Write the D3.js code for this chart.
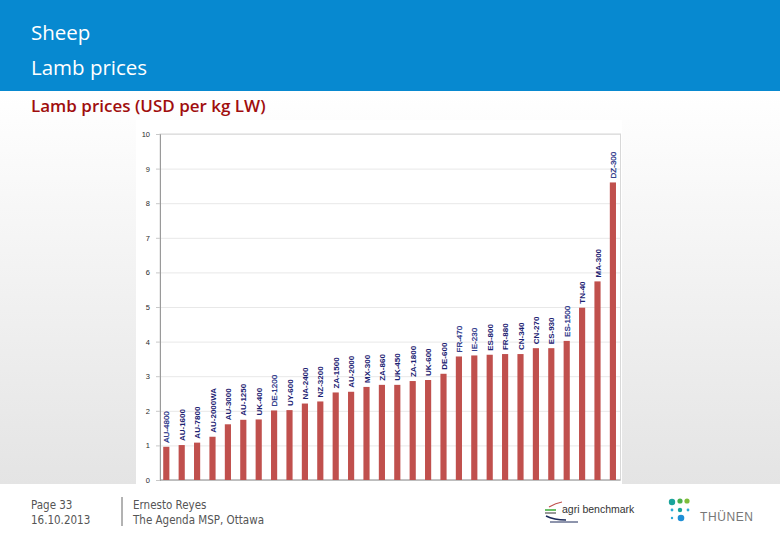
<!DOCTYPE html>
<html>
<head>
<meta charset="utf-8">
<script src="https://cdn.jsdelivr.net/npm/d3@7"></script>
<style>
  html, body { margin: 0; padding: 0; background: #fff; }
  svg { display: block; }
</style>
</head>
<body>
<svg id="chart" width="780" height="540"></svg>
<script>
// ---- data ----
const categories = ["AU-4800","AU-1600","AU-7800","AU-2000WA","AU-3000","AU-1250","UK-400","DE-1200","UY-600","NA-2400","NZ-3200","ZA-1500","AU-2000","MX-300","ZA-860","UK-450","ZA-1800","UK-600","DE-600","FR-470","IE-230","ES-800","FR-880","CN-340","CN-270","ES-930","ES-1500","TN-40","MA-300","DZ-300"];
const prices = [0.96,1.01,1.08,1.25,1.61,1.74,1.75,2.01,2.02,2.21,2.27,2.53,2.55,2.69,2.75,2.75,2.86,2.89,3.07,3.57,3.60,3.62,3.64,3.64,3.81,3.81,4.02,4.98,5.74,8.60];
const yTicks = [0,1,2,3,4,5,6,7,8,9,10];
const headerLines = ["Sheep","Lamb prices"];
const chartTitle = "Lamb prices (USD per kg LW)";
const footerLeft = ["Page 33","16.10.2013"];
const footerMid = ["Ernesto Reyes","The Agenda MSP, Ottawa"];

// style-only: labels rendered in bold
const boldLabels = new Set(["AU-1600","AU-7800","AU-2000WA","AU-3000","AU-1250","UK-400","UY-600","NA-2400","NZ-3200","ZA-1500","AU-2000","MX-300","ZA-860","UK-450","ZA-1800","UK-600","DE-600","ES-800","FR-880","CN-340","CN-270","ES-930","TN-40","MA-300"]);

const svg = d3.select("#chart");
const defs = svg.append("defs");
const grad = defs.append("linearGradient").attr("id","bg").attr("x1",0).attr("y1",0).attr("x2",0).attr("y2",1);
grad.append("stop").attr("offset","0%").attr("stop-color","#ffffff");
grad.append("stop").attr("offset","100%").attr("stop-color","#e4e4e4");

// slide background
svg.append("rect").attr("x",0).attr("y",91).attr("width",780).attr("height",393).attr("fill","url(#bg)");
// header band
svg.append("rect").attr("x",0).attr("y",0).attr("width",780).attr("height",91).attr("fill","#0789d0");
svg.selectAll("text.hdr").data(headerLines).join("text")
  .attr("class","hdr")
  .attr("x",31).attr("y",(d,i)=>40+i*35)
  .attr("fill","#ffffff")
  .attr("font-family","'Open Sans', sans-serif")
  .attr("font-size",20.5)
  .text(d=>d);

svg.append("text").attr("x",31).attr("y",112)
  .attr("fill","#a00d0d")
  .attr("font-family","'Open Sans', sans-serif")
  .attr("font-weight",600)
  .attr("font-size",17)
  .text(chartTitle);

// chart image area
svg.append("rect").attr("x",136).attr("y",120).attr("width",486).attr("height",364).attr("fill","#ffffff");

const y = d3.scaleLinear().domain([0,10]).range([480,134]);
const x = d3.scaleBand().domain(categories).range([158.6,620.6]).paddingInner(0.6).paddingOuter(0.3);

// gridlines
const g = svg.append("g");
g.append("g").attr("transform","translate(160,0)")
  .call(d3.axisLeft(y).tickValues(yTicks).tickSize(-460).tickFormat(""))
  .call(s=>s.select(".domain").remove())
  .call(s=>s.selectAll(".tick line").attr("stroke","#e8e8e8"));

// frame
g.append("rect").attr("x",160).attr("y",134).attr("width",460.5).attr("height",346)
  .attr("fill","none").attr("stroke","#d8d8d8");

// y axis
g.append("g").attr("transform","translate(160,0)")
  .call(d3.axisLeft(y).tickValues(yTicks).tickSize(4).tickPadding(6))
  .call(s=>s.select(".domain").attr("stroke","#9a9a9a"))
  .call(s=>s.selectAll(".tick line").attr("stroke","#c8c8c8"))
  .call(s=>s.selectAll(".tick text").attr("fill","#2a2a2a").attr("font-family","Arial, 'Liberation Sans', sans-serif").attr("font-size",7.5));

// bottom line
g.append("line").attr("x1",160).attr("x2",620.5).attr("y1",480).attr("y2",480).attr("stroke","#9a9a9a");

// bars
g.selectAll("rect.bar").data(categories).join("rect")
  .attr("class","bar")
  .attr("x",d=>x(d))
  .attr("width",x.bandwidth())
  .attr("y",(d,i)=>y(prices[i]))
  .attr("height",(d,i)=>y(0)-y(prices[i]))
  .attr("fill","#c0504d");

// bar labels
g.selectAll("text.lbl").data(categories).join("text")
  .attr("class","lbl")
  .attr("transform",(d,i)=>`translate(${x(d)+x.bandwidth()/2+3},${y(prices[i])-4}) rotate(-90)`)
  .attr("fill",d=>boldLabels.has(d)?"#1c2272":"#1f2e85")
  .attr("font-weight",d=>boldLabels.has(d)?"bold":"normal")
  .attr("stroke",d=>boldLabels.has(d)?"none":"#1f2e85")
  .attr("stroke-width",0.25)
  .attr("font-family","Arial, 'Liberation Sans', sans-serif")
  .attr("font-size",8)
  .text(d=>d);

// footer
const ff = "'DejaVu Sans Condensed', 'Liberation Sans Narrow', sans-serif";
svg.selectAll("text.fl").data(footerLeft).join("text").attr("class","fl")
  .attr("x",31).attr("y",(d,i)=>509+i*14.5).attr("fill","#555").attr("font-family",ff).attr("font-size",11.5).text(d=>d);
svg.append("line").attr("x1",122).attr("x2",122).attr("y1",497).attr("y2",526).attr("stroke","#666");
svg.selectAll("text.fm").data(footerMid).join("text").attr("class","fm")
  .attr("x",133).attr("y",(d,i)=>509+i*14.5).attr("fill","#555").attr("font-family",ff).attr("font-size",11.5).text(d=>d);

// agri benchmark logo
const lg = svg.append("g");
lg.append("path").attr("d","M549,507 Q556,503 562,502").attr("stroke","#c0504d").attr("stroke-width",1.2).attr("fill","none");
lg.append("line").attr("x1",545).attr("x2",556).attr("y1",510).attr("y2",510).attr("stroke","#3aaa35").attr("stroke-width",1.5);
lg.append("line").attr("x1",545).attr("x2",556).attr("y1",513).attr("y2",513).attr("stroke","#555").attr("stroke-width",1.2);
lg.append("path").attr("d","M546,516 Q554,520 566,520").attr("stroke","#1c2a5a").attr("stroke-width",1.5).attr("fill","none");
lg.append("line").attr("x1",550).attr("x2",578).attr("y1",522).attr("y2",522).attr("stroke","#1c2a5a").attr("stroke-width",1);
lg.append("text").attr("x",562).attr("y",513).attr("fill","#333").attr("font-family","'Liberation Sans Narrow', sans-serif").attr("font-size",10.5).text("agri benchmark");

// Thünen logo
const dots = [[672,502,3.2,"#1aa39b"],[680,501,2.6,"#4bb04a"],[687,501,2.6,"#7ebd3a"],[672,510,1.4,"#29a9d6"],[680,510,2.2,"#1aa39b"],[688,510,1.4,"#29a9d6"],[672,518,1.2,"#29a9d6"],[681,518,3.3,"#1e8fd6"]];
svg.selectAll("circle.th").data(dots).join("circle").attr("class","th")
  .attr("cx",d=>d[0]).attr("cy",d=>d[1]).attr("r",d=>d[2]).attr("fill",d=>d[3]);
svg.append("text").attr("x",700).attr("y",521).attr("fill","#777").attr("font-family","'Liberation Sans', sans-serif").attr("font-weight",300).attr("font-size",12).attr("letter-spacing",0.6).text("THÜNEN");
</script>
</body>
</html>
